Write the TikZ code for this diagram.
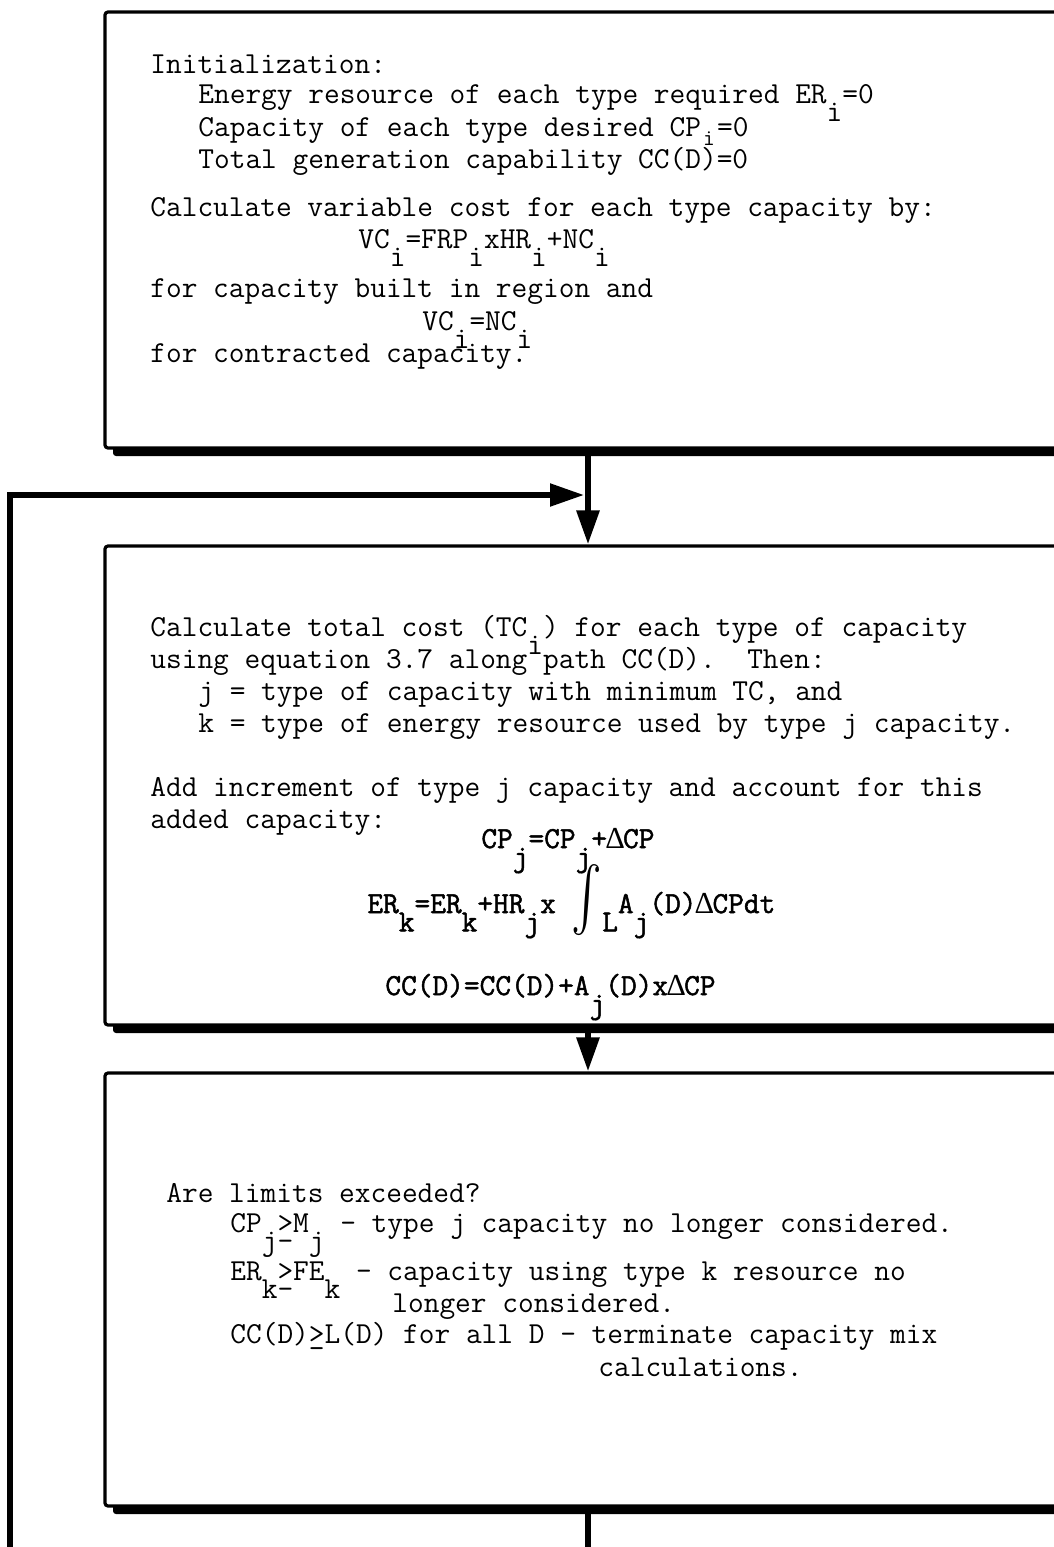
\documentclass[tikz,border=0pt]{standalone}
\usepackage{fontspec}
\usepackage{graphicx}
\newfontfamily\eqfont[FakeBold=1.6]{Latin Modern Mono}
\newfontfamily\dltfont{Liberation Serif}
\usetikzlibrary{arrows.meta, shadows}
\tikzset{
	flowbox/.style={draw, line width=1.6pt, fill=white, rounded corners=1.5pt,
		minimum width=483pt, inner sep=0pt,
		drop shadow={shadow xshift=4pt, shadow yshift=-4pt, opacity=1, fill=black}}
}
\tikzset{
	ttline/.style={anchor=base west, inner sep=0pt, font=\ttfamily\fontsize{15.25}{18}\selectfont},
	eqline/.style={anchor=base west, inner sep=0pt, font=\eqfont\fontsize{15.25}{18}\selectfont},
	flowline/.style={line width=2.6pt},
	flowarrow/.style={line width=2.6pt, -{Triangle[length=17pt, width=11pt]}}
}
% typewriter subscripts, delta, integral and >= signs
\newcommand{\dn}[1]{\raisebox{-0.6em}{#1}}
\newcommand{\sm}[1]{\makebox[0.525em]{\raisebox{-0.3em}{\scalebox{0.75}{#1}}}}
\newcommand{\dlt}{\makebox[0.525em]{\dltfont Δ}}
\newcommand{\bigint}{\raisebox{-5pt}{\scalebox{2.3}[3.2]{$\int$}}}
\newcommand{\gtsub}{\makebox[0pt][l]{\raisebox{-0.6em}{-}}>}
\newcommand{\gtbar}{\makebox[0pt][l]{\_}>}

\begin{document}
\begin{tikzpicture}[x=0.5pt, y=-0.5pt]
      \useasboundingbox (0,0) rectangle (1054,1547);

      % the three boxes
      \node[flowbox, minimum height=218pt] (init) at (588,230) {};
      \node[flowbox, minimum height=239.5pt] (cost) at (588,785.5) {};
      \node[flowbox, minimum height=216.5pt] (limits) at (588,1289.5) {};

      % initialization
      \node[ttline] (i1) at (150,73) {Initialization:};
      \node[ttline] (i2) at (198,103) {Energy resource of each type required ER\dn{i}=0};
      \node[ttline] (i3) at (198,136) {Capacity of each type desired CP\sm{i}=0};
      \node[ttline] (i4) at (198,168) {Total generation capability CC(D)=0};
      \node[ttline] (i5) at (150,216) {Calculate variable cost for each type capacity by:};
      \node[ttline] (i6) at (358,248) {VC\dn{i}=FRP\dn{i}xHR\dn{i}+NC\dn{i}};
      \node[ttline] (i7) at (150,297) {for capacity built in region and};
      \node[ttline] (i8) at (422,330) {VC\dn{i}=NC\dn{i}};
      \node[ttline] (i9) at (150,362) {for contracted capacity.};

      % total cost and increment
      \node[ttline] (c1) at (150,636) {Calculate total cost (TC\dn{i}) for each type of capacity};
      \node[ttline] (c2) at (150,668) {using equation 3.7 along path CC(D).\ \ Then:};
      \node[ttline] (c3) at (198,700) {j = type of capacity with minimum TC, and};
      \node[ttline] (c4) at (198,732) {k = type of energy resource used by type j capacity.};
      \node[ttline] (c5) at (150,796) {Add increment of type j capacity and account for this};
      \node[ttline] (c6) at (150,828) {added capacity:};
      \node[eqline] (c7) at (481,848) {CP\dn{j}=CP\dn{j}+\dlt CP};
      \node[eqline] (c8) at (367,913) {ER\dn{k}=ER\dn{k}+HR\dn{j}x \bigint\dn{L}A\dn{j}(D)\dlt CPdt};
      \node[eqline] (c9) at (385,995) {CC(D)=CC(D)+A\dn{j}(D)x\dlt CP};

      % limits
      \node[ttline] (l1) at (166,1202) {Are limits exceeded?};
      \node[ttline] (l2) at (230,1232) {CP\dn{j}\gtsub M\dn{j} - type j capacity no longer considered.};
      \node[ttline] (l3) at (230,1280) {ER\dn{k}\gtsub FE\dn{k} - capacity using type k resource no};
      \node[ttline] (l4) at (392,1312) {longer considered.};
      \node[ttline] (l5) at (230,1343) {CC(D)\gtbar L(D) for all D - terminate capacity mix};
      \node[ttline] (l6) at (598,1376) {calculations.};

      % connectors
      \coordinate (merge) at (584,495);
      \coordinate (loopfoot) at (10,1560);
      \coordinate (exitfoot) at (588,1560);
      \draw[flowarrow, line width=3pt] (init.south) -- (cost.north);
      \draw[flowarrow] (loopfoot) |- (merge);
      \draw[flowarrow, line width=3pt] (cost.south) -- (limits.north);
      \draw[flowline, line width=3pt] (limits.south) -- (exitfoot);
    \end{tikzpicture}
\end{document}
